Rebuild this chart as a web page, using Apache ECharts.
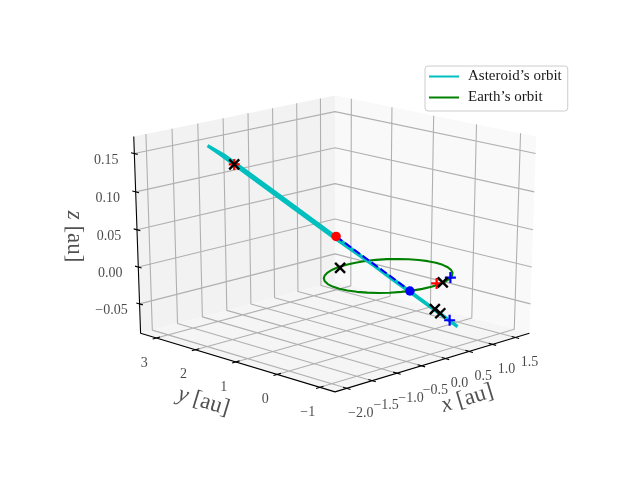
<!DOCTYPE html>
<html>
<head>
<meta charset="utf-8">
<title>Asteroid orbit</title>
<script src="https://cdn.jsdelivr.net/npm/echarts@6/dist/echarts.min.js"></script>
<style>html,body{margin:0;background:#fff}#app{width:640px;height:480px}</style>
</head>
<body>
<div id="app"></div>
<script>
// axis ranges and ticks
const xLim = [-2.23, 1.81];
const yLim = [-1.35, 3.41];
const zLim = [-0.0903, 0.172];
const xTicks = [-2, -1.5, -1, -0.5, 0, 0.5, 1, 1.5];
const yTicks = [-1, 0, 1, 2, 3];
const zTicks = [-0.05, 0, 0.05, 0.1, 0.15];
const xTickLabels = ["−2.0", "−1.5", "−1.0", "−0.5", "0.0", "0.5", "1.0", "1.5"];
const yTickLabels = ["−1", "0", "1", "2", "3"];
const zTickLabels = ["−0.05", "0.00", "0.05", "0.10", "0.15"];

// orbits
const asteroidX = [1.132, 1.476, 1.457, 0.997, 0.222, -0.664, -1.372, -1.846, -1.827, -1.367, -0.592, 0.294, 1.132];
const asteroidY = [-0.393, 0.518, 1.599, 2.561, 3.142, 3.192, 2.693, 1.782, 0.701, -0.261, -0.842, -0.892, -0.393];
const asteroidZ = [-0.0837, -0.0816, -0.052, 0.0047, 0.0702, 0.1281, 0.1568, 0.1636, 0.1333, 0.0783, 0.0156, -0.0427, -0.0837];
const earthX = [1, 0.985, 0.94, 0.866, 0.766, 0.643, 0.5, 0.342, 0.174, 0, -0.174, -0.342, -0.5, -0.643, -0.766, -0.866, -0.94, -0.985, -1,
  -0.985, -0.94, -0.866, -0.766, -0.643, -0.5, -0.342, -0.174, 0, 0.174, 0.342, 0.5, 0.643, 0.766, 0.866, 0.94, 0.985, 1];
const earthY = [0, 0.174, 0.342, 0.5, 0.643, 0.766, 0.866, 0.94, 0.985, 1, 0.985, 0.94, 0.866, 0.766, 0.643, 0.5, 0.342, 0.174, 0,
  -0.174, -0.342, -0.5, -0.643, -0.766, -0.866, -0.94, -0.985, -1, -0.985, -0.94, -0.866, -0.766, -0.643, -0.5, -0.342, -0.174, 0];
const earthZ = earthX.map(() => 0);

// dashed arc between the two dots
const arcX = [-1.324, -1.135, -0.874, -0.592, -0.38];
const arcY = [-0.307, -0.507, -0.703, -0.842, -0.93];
const arcZ = [0.0778, 0.0603, 0.0384, 0.0166, 0];

// markers
const crossX = [-0.407, -0.19, 0.28, 0.149, 0.294];
const crossY = [3.267, 0.93, -0.95, -0.923, -0.892];
const crossZ = [0.1111, 0, 0, -0.0336, -0.0422];
const redPlusX = [-0.407, 0.18];
const redPlusY = [3.267, -0.92];
const redPlusZ = [0.1111, 0];
const bluePlusX = [0.55, 0.624];
const bluePlusY = [-0.83, -0.753];
const bluePlusZ = [0, -0.0599];
const redDot = [-1.324, -0.307, 0.0778];
const blueDot = [-0.38, -0.93, 0];

// view: same kind of camera as mplot3d, tuned against the box corners
const elev = (14.5 * Math.PI) / 180;
const azim = (-135 * Math.PI) / 180;
const camDist = 12;
const scale = 244.7;
const centerPx = [335, 236.6];
const halfXY = 0.5715;
const halfZ = 0.415;
const zDepth = 2; // stronger taper of the verticals

function project(x, y, z) {
  const X = ((x - xLim[0]) / (xLim[1] - xLim[0]) - 0.5) * 2 * halfXY;
  const Y = ((y - yLim[0]) / (yLim[1] - yLim[0]) - 0.5) * 2 * halfXY;
  const Z = ((z - zLim[0]) / (zLim[1] - zLim[0]) - 0.5) * 2 * halfZ;
  const c = Math.cos(elev), s = Math.sin(elev);
  const ca = Math.cos(azim), sa = Math.sin(azim);
  const u = -sa * X + ca * Y;
  const v = -s * ca * X - s * sa * Y + c * Z;
  const w = c * ca * X + c * sa * Y + zDepth * s * Z;
  const f = 1 / (1 - w / camDist);
  return [centerPx[0] + scale * u * f, centerPx[1] - scale * v * f];
}

const path = (xs, ys, zs) => xs.map((x, i) => project(x, ys[i], zs[i]));
const GAP = [NaN, NaN];

const [x0, x1] = xLim, [y0, y1] = yLim, [z0, z1] = zLim;

const panes = [
  [[x0, y1, z0], [x1, y1, z0], [x1, y1, z1], [x0, y1, z1]],
  [[x1, y0, z0], [x1, y1, z0], [x1, y1, z1], [x1, y0, z1]],
  [[x0, y0, z0], [x1, y0, z0], [x1, y1, z0], [x0, y1, z0]],
].map((p) => p.map((c) => project(c[0], c[1], c[2])));
const paneColors = ["#f2f2f2", "#f9f9f9", "#f5f5f5"];

const gridData = [];
xTicks.forEach((t) => gridData.push(project(t, y0, z0), project(t, y1, z0), project(t, y1, z1), GAP));
yTicks.forEach((t) => gridData.push(project(x0, t, z0), project(x1, t, z0), project(x1, t, z1), GAP));
zTicks.forEach((t) => gridData.push(project(x0, y1, t), project(x1, y1, t), project(x1, y0, t), GAP));

const axisData = [project(x0, y1, z1), project(x0, y1, z0), project(x0, y0, z0), project(x1, y0, z0)];

const tickData = [];
const dx = (x1 - x0) * 0.018, dy = (y1 - y0) * 0.018;
xTicks.forEach((t) => tickData.push(project(t, y0 - dy, z0), project(t, y0 + dy, z0), GAP));
yTicks.forEach((t) => tickData.push(project(x0 - dx, t, z0), project(x0 + dx, t, z0), GAP));
zTicks.forEach((t) => tickData.push(project(x0, y1 + dy, t), project(x0, y1 - dy, t), GAP));

function shifted(p, ox, oy, text) {
  return [p[0] + ox, p[1] + oy, text];
}
const tickLabelData = [
  ...xTicks.map((t, i) => shifted(project(t, y0, z0), 14, 25, xTickLabels[i])),
  ...yTicks.map((t, i) => shifted(project(x0, t, z0), -12, 25, yTickLabels[i])),
  ...zTicks.map((t, i) => shifted(project(x0, y1, t), -28, 6.5, zTickLabels[i])),
];

const FONT = "Liberation Serif";
const axisName = (p, ox, oy, name, rot) => ({
  type: "scatter",
  z: 8,
  silent: true,
  symbolSize: 1,
  itemStyle: { color: "transparent" },
  data: [shifted(p, ox, oy, name)],
  label: {
    show: true,
    position: "inside",
    rotate: rot,
    color: "#262626",
    fontFamily: FONT,
    fontSize: 23,
    formatter: (o) => "{i|" + o.value[2] + "} [au]",
    rich: { i: { fontStyle: "italic", fontFamily: FONT, fontSize: 23, color: "#262626" } },
  },
});

const CROSS = "path://M0 0L10 10M10 0L0 10";
const PLUS = "path://M5 0L5 10M0 5L10 5";
const strokeMark = (name, data, sym, size, color, w) => ({
  type: "scatter",
  name: name,
  z: 7,
  symbol: sym,
  symbolSize: size,
  itemStyle: { color: "transparent", borderColor: color, borderWidth: w, opacity: 1 },
  data: data,
});

const option = {
  animation: false,
  backgroundColor: "#fff",
  grid: { left: 0, right: 0, top: 0, bottom: 0 },
  xAxis: { type: "value", min: 0, max: 640, show: false },
  yAxis: { type: "value", min: 0, max: 480, inverse: true, show: false },
  legend: {
    data: ["Asteroid’s orbit", "Earth’s orbit"],
    orient: "vertical",
    left: 425,
    top: 66,
    padding: [3, 6, 6, 4],
    itemGap: 6,
    itemWidth: 30,
    itemHeight: 2,
    icon: "rect",
    align: "left",
    borderColor: "#cccccc",
    borderWidth: 1,
    borderRadius: 3,
    backgroundColor: "rgba(255,255,255,0.8)",
    textStyle: { fontFamily: FONT, fontSize: 15, color: "#1a1a1a", padding: [0, 0, 0, 4] },
  },
  series: [
    {
      type: "custom",
      z: 1,
      silent: true,
      coordinateSystem: "cartesian2d",
      data: panes.map((p, i) => [i]),
      renderItem: (params, api) => ({
        type: "polygon",
        shape: { points: panes[params.dataIndex].map((p) => api.coord(p)) },
        style: { fill: paneColors[params.dataIndex] },
      }),
    },
    {
      type: "line",
      z: 2,
      silent: true,
      showSymbol: false,
      data: gridData,
      lineStyle: { color: "#b0b0b0", width: 1.1 },
    },
    {
      type: "line",
      z: 3,
      silent: true,
      showSymbol: false,
      data: axisData,
      lineStyle: { color: "#000", width: 1.1 },
    },
    {
      type: "line",
      z: 3,
      silent: true,
      showSymbol: false,
      data: tickData,
      lineStyle: { color: "#000", width: 1.1 },
    },
    {
      type: "line",
      name: "Earth’s orbit",
      z: 4,
      showSymbol: false,
      color: "#008000",
      data: path(earthX, earthY, earthZ),
      lineStyle: { color: "#008000", width: 2.1 },
    },
    {
      type: "line",
      name: "Asteroid’s orbit",
      z: 5,
      showSymbol: false,
      color: "#00bfbf",
      data: path(asteroidX, asteroidY, asteroidZ),
      lineStyle: { color: "#00bfbf", width: 3.2 },
    },
    {
      type: "line",
      z: 6,
      showSymbol: false,
      data: path(arcX, arcY, arcZ),
      lineStyle: { color: "#0000ff", width: 2.1, type: [7.7, 3.3] },
    },
    {
      type: "scatter",
      z: 7,
      symbolSize: 9.5,
      itemStyle: { color: "#ff0000", opacity: 1 },
      data: [project(redDot[0], redDot[1], redDot[2])],
    },
    {
      type: "scatter",
      z: 7,
      symbolSize: 9.5,
      itemStyle: { color: "#0000ff", opacity: 1 },
      data: [project(blueDot[0], blueDot[1], blueDot[2])],
    },
    strokeMark("redPlus", path(redPlusX, redPlusY, redPlusZ), PLUS, 11, "#ff0000", 2.2),
    strokeMark("bluePlus", path(bluePlusX, bluePlusY, bluePlusZ), PLUS, 11, "#0000ff", 2.2),
    strokeMark("cross", path(crossX, crossY, crossZ), CROSS, 10, "#000", 2.4),
    {
      type: "scatter",
      z: 8,
      silent: true,
      symbolSize: 1,
      itemStyle: { color: "transparent" },
      data: tickLabelData,
      label: {
        show: true,
        position: "inside",
        color: "#1a1a1a",
        fontFamily: FONT,
        fontSize: 14,
        formatter: (o) => o.value[2],
      },
    },
    axisName(project((x0 + x1) / 2, y0, z0), 32, 37, "x", 17),
    axisName(project(x0, (y0 + y1) / 2, z0), -31, 40, "y", -17),
    axisName(project(x0, y1, (z0 + z1) / 2), -63, 0, "z", -90),
  ],
};

const myChart = echarts.init(document.getElementById("app"));
myChart.setOption(option);
</script>
</body>
</html>
